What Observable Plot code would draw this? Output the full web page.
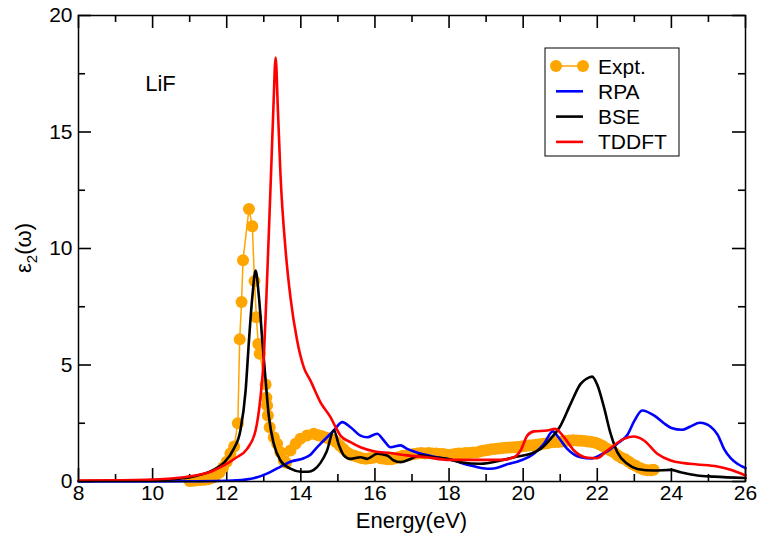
<!DOCTYPE html>
<html><head><meta charset="utf-8">
<script src="https://cdn.jsdelivr.net/npm/d3@7"></script>
<script src="https://cdn.jsdelivr.net/npm/@observablehq/plot@0.6"></script>
<style>body{margin:0;background:#fff}</style>
</head><body><div id="chart"></div>
<script>
const xMajor = [8,10,12,14,16,18,20,22,24,26];
const xMinor = [9,11,13,15,17,19,21,23,25];
const yMajor = [0,5,10,15,20];
const yMinor = [2.5,7.5,12.5,17.5];

const expt = [[11.0,0.02],[11.1,0.03],[11.2,0.05],[11.3,0.06],[11.4,0.08],[11.5,0.1],[11.6,0.15],[11.7,0.25],[11.8,0.38],[11.9,0.6],[12.0,0.85],[12.1,1.2],[12.2,1.5],[12.3,2.5],[12.35,6.1],[12.4,7.7],[12.44,9.5],[12.6,11.7],[12.69,10.95],[12.75,8.6],[12.8,7.05],[12.85,5.9],[12.89,5.48],[13.05,4.16],[13.07,3.6],[13.09,3.26],[13.11,2.83],[13.16,2.33],[13.27,1.9],[13.36,1.62],[13.45,1.26],[13.54,0.9],[13.6,0.8],[13.72,1.33],[13.86,1.62],[13.99,1.83],[14.17,1.97],[14.35,2.05],[14.45,2.0],[14.55,1.95],[14.65,1.9],[14.75,1.85],[14.85,1.8],[14.95,1.7],[15.05,1.55],[15.15,1.4],[15.25,1.25],[15.35,1.15],[15.45,1.1],[15.55,1.05],[15.65,1.0],[15.75,0.98],[15.85,1.0],[15.95,1.02],[16.05,1.05],[16.15,1.0],[16.25,0.98],[16.35,0.95],[16.45,0.95],[16.55,1.0],[16.65,1.05],[16.75,1.1],[16.85,1.12],[16.95,1.15],[17.05,1.18],[17.15,1.2],[17.25,1.22],[17.35,1.2],[17.45,1.22],[17.55,1.2],[17.65,1.2],[17.75,1.18],[17.85,1.18],[17.95,1.15],[18.05,1.15],[18.15,1.18],[18.25,1.2],[18.35,1.2],[18.45,1.22],[18.55,1.22],[18.65,1.25],[18.75,1.25],[18.85,1.3],[18.95,1.33],[19.05,1.35],[19.15,1.38],[19.25,1.4],[19.35,1.42],[19.45,1.44],[19.55,1.45],[19.65,1.46],[19.75,1.47],[19.85,1.48],[19.95,1.5],[20.05,1.52],[20.15,1.54],[20.25,1.56],[20.35,1.58],[20.45,1.6],[20.55,1.62],[20.65,1.64],[20.75,1.68],[20.85,1.7],[20.95,1.7],[21.05,1.72],[21.15,1.74],[21.25,1.76],[21.35,1.77],[21.45,1.76],[21.55,1.75],[21.65,1.74],[21.75,1.72],[21.85,1.7],[21.95,1.66],[22.05,1.6],[22.15,1.52],[22.25,1.42],[22.35,1.33],[22.45,1.25],[22.55,1.12],[22.65,1.02],[22.75,0.95],[22.85,0.85],[22.95,0.74],[23.05,0.66],[23.15,0.58],[23.25,0.52],[23.35,0.48],[23.45,0.48],[23.52,0.5]];

const rpa = [[8,0.0],[9,0.0],[10,0.0],[11,0.01],[12,0.03],[12.5,0.08],[12.82,0.18],[13.1,0.35],[13.36,0.56],[13.72,0.85],[14.08,1.0],[14.26,1.15],[14.4,1.4],[14.62,1.76],[14.89,2.19],[15.12,2.55],[15.34,2.33],[15.61,1.97],[15.79,1.9],[16.06,2.05],[16.24,1.76],[16.42,1.47],[16.69,1.55],[16.87,1.4],[17.23,1.2],[17.68,1.04],[18.13,0.9],[18.49,0.72],[18.67,0.65],[19.03,0.55],[19.2,0.56],[19.57,0.74],[19.93,0.9],[20.29,1.19],[20.56,1.62],[20.8,2.15],[20.95,1.9],[21.19,1.4],[21.55,1.04],[21.85,0.99],[22.1,1.15],[22.35,1.38],[22.6,1.7],[22.81,2.0],[23.0,2.6],[23.21,3.05],[23.55,2.82],[23.8,2.5],[24.0,2.3],[24.29,2.22],[24.5,2.35],[24.77,2.52],[25.06,2.35],[25.25,2.0],[25.42,1.4],[25.6,1.0],[25.78,0.76],[26,0.58]];

const bse = [[8,0.02],[9,0.03],[10,0.06],[10.7,0.12],[11.2,0.25],[11.6,0.47],[11.92,0.8],[12.19,1.4],[12.37,2.2],[12.51,3.9],[12.6,6.05],[12.69,7.9],[12.78,9.05],[12.87,7.9],[12.96,6.05],[13.05,4.33],[13.14,2.76],[13.27,1.62],[13.45,0.9],[13.72,0.55],[14.0,0.42],[14.2,0.42],[14.35,0.5],[14.53,0.8],[14.7,1.3],[14.89,2.2],[15.03,1.55],[15.16,1.12],[15.34,0.97],[15.61,1.04],[15.79,0.97],[16.06,1.19],[16.33,1.12],[16.51,0.9],[16.69,0.83],[16.96,0.97],[17.23,1.12],[17.59,1.04],[17.95,0.97],[18.31,0.83],[18.85,0.76],[19.39,0.9],[19.84,1.07],[20.2,1.19],[20.47,1.4],[20.74,1.83],[21.01,2.4],[21.28,3.33],[21.55,4.19],[21.7,4.4],[21.86,4.5],[22.0,4.15],[22.18,3.19],[22.36,2.05],[22.54,1.26],[22.81,0.76],[23.08,0.54],[23.53,0.47],[23.98,0.5],[24.25,0.4],[24.7,0.26],[25.15,0.21],[26,0.15]];

const tddft = [[8,0.04],[9,0.05],[9.8,0.07],[10.7,0.16],[11.15,0.26],[11.6,0.44],[11.96,0.72],[12.23,1.0],[12.55,1.4],[12.78,2.2],[12.91,3.6],[13.0,5.3],[13.07,7.9],[13.14,10.8],[13.2,13.4],[13.26,16.06],[13.32,18.2],[13.38,16.0],[13.45,13.2],[13.59,9.9],[13.72,7.9],[13.9,6.05],[14.08,4.9],[14.26,4.33],[14.53,3.4],[14.8,2.76],[14.94,2.33],[15.07,1.97],[15.34,1.69],[15.61,1.47],[15.97,1.3],[16.42,1.22],[16.87,1.12],[17.41,1.04],[17.95,0.93],[18.67,0.93],[19.39,0.93],[19.75,1.04],[19.93,1.33],[20.11,1.97],[20.29,2.15],[20.65,2.19],[20.87,2.26],[21.1,1.9],[21.37,1.33],[21.73,1.02],[22.0,1.0],[22.27,1.33],[22.72,1.83],[22.98,1.93],[23.26,1.76],[23.62,1.19],[23.98,0.9],[24.34,0.79],[24.7,0.73],[25.24,0.64],[25.6,0.5],[26,0.26]];

const seriesNames = ["Expt.","RPA","BSE","TDDFT"];
const seriesColors = ["#FFA500","#0000FF","#000000","#FF0000"];

const W = 759, H = 535, mL = 78, mR = 14, mT = 15, mB = 54;
const fh = H - mT - mB, fw = W - mL - mR;
const xDom = [8, 26], yDom = [0, 20];
const majLen = 13, minLen = 7;
const FONT = "'Liberation Sans', Arial, sans-serif";
// tick lengths expressed in data units (px / px-per-unit)
const ux = (xDom[1] - xDom[0]) / fw, uy = (yDom[1] - yDom[0]) / fh;

const X = d => d[0], Y = d => d[1];
const tickStyle = {stroke: "#000", strokeWidth: 1.6};
const chart = Plot.plot({
  width: W, height: H,
  marginLeft: mL, marginRight: mR, marginTop: mT, marginBottom: mB,
  style: {fontFamily: FONT, fontSize: "21px", background: "#fff", color: "#000"},
  x: {domain: xDom},
  y: {domain: yDom},
  marks: [
    Plot.axisX({ticks: xMajor, tickSize: 0, tickPadding: 4, label: null, tickFormat: d => String(d)}),
    Plot.axisY({ticks: yMajor, tickSize: 0, tickPadding: 6, label: null, tickFormat: d => String(d)}),
    // inward ticks on all four sides
    Plot.ruleX(xMajor, {x: d => d, y1: yDom[0], y2: yDom[0] + majLen * uy, ...tickStyle}),
    Plot.ruleX(xMajor, {x: d => d, y1: yDom[1], y2: yDom[1] - majLen * uy, ...tickStyle}),
    Plot.ruleX(xMinor, {x: d => d, y1: yDom[0], y2: yDom[0] + minLen * uy, ...tickStyle}),
    Plot.ruleX(xMinor, {x: d => d, y1: yDom[1], y2: yDom[1] - minLen * uy, ...tickStyle}),
    Plot.ruleY(yMajor, {y: d => d, x1: xDom[0], x2: xDom[0] + majLen * ux, ...tickStyle}),
    Plot.ruleY(yMajor, {y: d => d, x1: xDom[1], x2: xDom[1] - majLen * ux, ...tickStyle}),
    Plot.ruleY(yMinor, {y: d => d, x1: xDom[0], x2: xDom[0] + minLen * ux, ...tickStyle}),
    Plot.ruleY(yMinor, {y: d => d, x1: xDom[1], x2: xDom[1] - minLen * ux, ...tickStyle}),
    Plot.line(expt, {x: X, y: Y, stroke: seriesColors[0], strokeWidth: 1.5}),
    Plot.dot(expt, {x: X, y: Y, r: 6, fill: seriesColors[0], stroke: "none"}),
    Plot.line(rpa, {x: X, y: Y, stroke: seriesColors[1], strokeWidth: 2.6, curve: "monotone-x"}),
    Plot.line(bse, {x: X, y: Y, stroke: seriesColors[2], strokeWidth: 2.6, curve: "monotone-x"}),
    Plot.line(tddft, {x: X, y: Y, stroke: seriesColors[3], strokeWidth: 2.6, curve: "monotone-x"}),
    Plot.text(["LiF"], {x: 9.8, y: 17.05, text: d => d, textAnchor: "start", fontSize: 22}),
    Plot.frame({stroke: "#000", strokeWidth: 1.5})
  ]
});

const svg = d3.select(chart);
// axis titles
svg.append("text").attr("x", mL + fw / 2).attr("y", H - 7)
  .attr("text-anchor", "middle").attr("font-size", 22).attr("fill", "#000").text("Energy(eV)");
const yl = svg.append("text").attr("transform", `translate(31,${mT + fh / 2}) rotate(-90)`)
  .attr("text-anchor", "middle").attr("font-size", 22).attr("fill", "#000");
yl.append("tspan").text("ε");
yl.append("tspan").attr("font-size", 15).attr("dy", 6).text("2");
yl.append("tspan").attr("dy", -6).text("(ω)");

// legend
const lg = svg.append("g");
lg.append("rect").attr("x", 545).attr("y", 48).attr("width", 134).attr("height", 108)
  .attr("fill", "#fff").attr("stroke", "#000").attr("stroke-width", 1);
seriesNames.forEach((name, i) => {
  const cy = 66 + i * 25.3;
  lg.append("line").attr("x1", 556).attr("x2", 583).attr("y1", cy).attr("y2", cy)
    .attr("stroke", seriesColors[i]).attr("stroke-width", i === 0 ? 1.5 : 2.6);
  if (i === 0) {
    [556, 583].forEach(cx => lg.append("circle").attr("cx", cx).attr("cy", cy).attr("r", 6).attr("fill", seriesColors[0]));
  }
  lg.append("text").attr("x", 598).attr("y", cy).attr("dy", "0.36em").attr("text-anchor", "start")
    .attr("font-size", 21).attr("fill", "#000").text(name);
});

document.getElementById("chart").append(chart);
</script>
</body></html>
